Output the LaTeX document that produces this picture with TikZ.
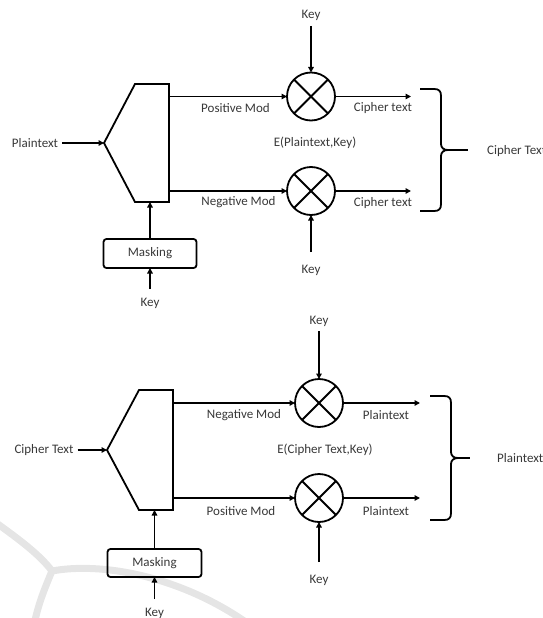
\documentclass[tikz,border=0pt]{standalone}
\usepackage{fontspec}
\setmainfont{Carlito}
\usetikzlibrary{arrows.meta}
\begin{document}
\begin{tikzpicture}[x=1pt,y=-1pt,
 lw/.style={line width=1.8pt},
 arr/.style={lw,-{Triangle[length=5.5pt,width=5.5pt]}},
 lbl/.style={font=\fontsize{13}{15}\selectfont, text=black!78, inner sep=1pt},
 mult/.style={circle,draw,lw,minimum size=48pt,inner sep=0pt,outer sep=0pt},
 maskbox/.style={draw,lw,rounded corners=3pt,minimum width=93pt,minimum height=29pt,inner sep=0pt,outer sep=0pt,font=\fontsize{13}{15}\selectfont,text=black!78},
 wm/.style={line width=7pt,color=black!10,line cap=round}]
\useasboundingbox (0,0) rectangle (542,618);
% watermark
\coordinate (w0) at (-5,522);
\coordinate (wj) at (52,571);
\coordinate (w1) at (250,625);
\coordinate (w2) at (34,625);
\draw[wm] (w0) .. controls (20,540) and (40,555) .. (wj);
\draw[wm] (wj) .. controls (100,562) and (180,575) .. (w1);
\draw[wm] (wj) .. controls (44,590) and (38,605) .. (w2);

% ================= top diagram =================
\node[lbl] (k1) at (311,15) {Key};
\coordinate (k1s) at (311,26);
\node[mult] (m1) at (311,96.5) {};
\node[mult] (m2) at (311,191) {};
\foreach \m in {m1,m2}{
  \draw[lw] (\m.north west) -- (\m.south east);
  \draw[lw] (\m.north east) -- (\m.south west);
}
\coordinate (p1) at (104,143);
\coordinate (q1) at (135,84);
\coordinate (r1) at (169,84);
\coordinate (s1) at (169,202);
\coordinate (u1) at (135,202);
\draw[lw,line join=miter] (p1) -- (q1) -- (r1) -- (s1) -- (u1) -- cycle;
\node[lbl] (in1) at (35,143) {Plaintext};
\draw[arr] ([xshift=3pt]in1.east) -- (p1);
\coordinate (a1) at (169,96.5);
\coordinate (b1) at (169,191);
\draw[arr] (a1) -- (m1.west);
\draw[arr] (b1) -- (m2.west);
\node[lbl] (pm1) at (235.5,108) {Positive Mod};
\node[lbl] (nm1) at (238.5,202) {Negative Mod};
\coordinate (o1) at (411,96.5);
\coordinate (o2) at (411,191);
\draw[arr] (m1.east) -- (o1);
\draw[arr] (m2.east) -- (o2);
\node[lbl] (c1) at (383,108) {Cipher text};
\node[lbl] (c2) at (383,203) {Cipher text};
\node[lbl] (e1) at (315,143) {E(Plaintext,Key)};
\draw[arr] (k1s) -- (m1.north);
\node[lbl] (k2) at (311,270) {Key};
\coordinate (k2s) at (311,252);
\draw[arr] (k2s) -- (m2.south);
\draw[lw] (420,89) -- (434,89) .. controls (439,89) and (441,91) .. (441,96)
  -- (441,144) .. controls (441,148) and (444,150) .. (448,150)
  .. controls (444,150) and (441,152) .. (441,156)
  -- (441,204) .. controls (441,209) and (439,211) .. (434,211) -- (420,211);
\draw[lw] (448,150) -- (468,150);
\node[lbl,anchor=west] (ct) at (486,151) {Cipher Text};
\node[maskbox] (mk1) at (150,253.5) {Masking};
\draw[arr] (mk1.north) -- (mk1.north |- s1);
\node[lbl] (k3) at (150,303) {Key};
\coordinate (k3s) at (150,289);
\draw[arr] (k3s) -- (mk1.south);

% ================= bottom diagram =================
\node[lbl] (k4) at (319,321) {Key};
\coordinate (k4s) at (319,331);
\node[mult] (m3) at (319,403) {};
\node[mult] (m4) at (319,498) {};
\foreach \m in {m3,m4}{
  \draw[lw] (\m.north west) -- (\m.south east);
  \draw[lw] (\m.north east) -- (\m.south west);
}
\coordinate (p2) at (107,450);
\coordinate (q2) at (139,390);
\coordinate (r2) at (173,390);
\coordinate (s2) at (173,510);
\coordinate (u2) at (139,510);
\draw[lw,line join=miter] (p2) -- (q2) -- (r2) -- (s2) -- (u2) -- cycle;
\node[lbl] (in2) at (44,450) {Cipher Text};
\draw[arr] ([xshift=3pt]in2.east) -- (p2);
\coordinate (a2) at (173,403);
\coordinate (b2) at (173,498);
\draw[arr] (a2) -- (m3.west);
\draw[arr] (b2) -- (m4.west);
\node[lbl] (nm2) at (244,415) {Negative Mod};
\node[lbl] (pm2) at (241,511) {Positive Mod};
\coordinate (o3) at (420,403);
\coordinate (o4) at (420,498);
\draw[arr] (m3.east) -- (o3);
\draw[arr] (m4.east) -- (o4);
\node[lbl] (d1) at (386,415) {Plaintext};
\node[lbl] (d2) at (386,511) {Plaintext};
\node[lbl] (e2) at (325,450) {E(Cipher Text,Key)};
\draw[arr] (k4s) -- (m3.north);
\node[lbl] (k5) at (319,580) {Key};
\coordinate (k5s) at (319,562);
\draw[arr] (k5s) -- (m4.south);
\draw[lw] (430,396) -- (444,396) .. controls (449,396) and (451,398) .. (451,403)
  -- (451,452) .. controls (451,456) and (454,458) .. (458,458)
  .. controls (454,458) and (451,460) .. (451,464)
  -- (451,513) .. controls (451,518) and (449,520) .. (444,520) -- (430,520);
\draw[lw] (458,458) -- (470,458);
\node[lbl,anchor=west] (pt) at (496,458) {Plaintext};
\node[maskbox,minimum width=94pt,minimum height=28pt] (mk2) at (154.5,563) {Masking};
\draw[arr] (mk2.north) -- (mk2.north |- s2);
\node[lbl] (k6) at (154.5,613) {Key};
\coordinate (k6s) at (154.5,599);
\draw[arr] (k6s) -- (mk2.south);
\end{tikzpicture}
\end{document}
